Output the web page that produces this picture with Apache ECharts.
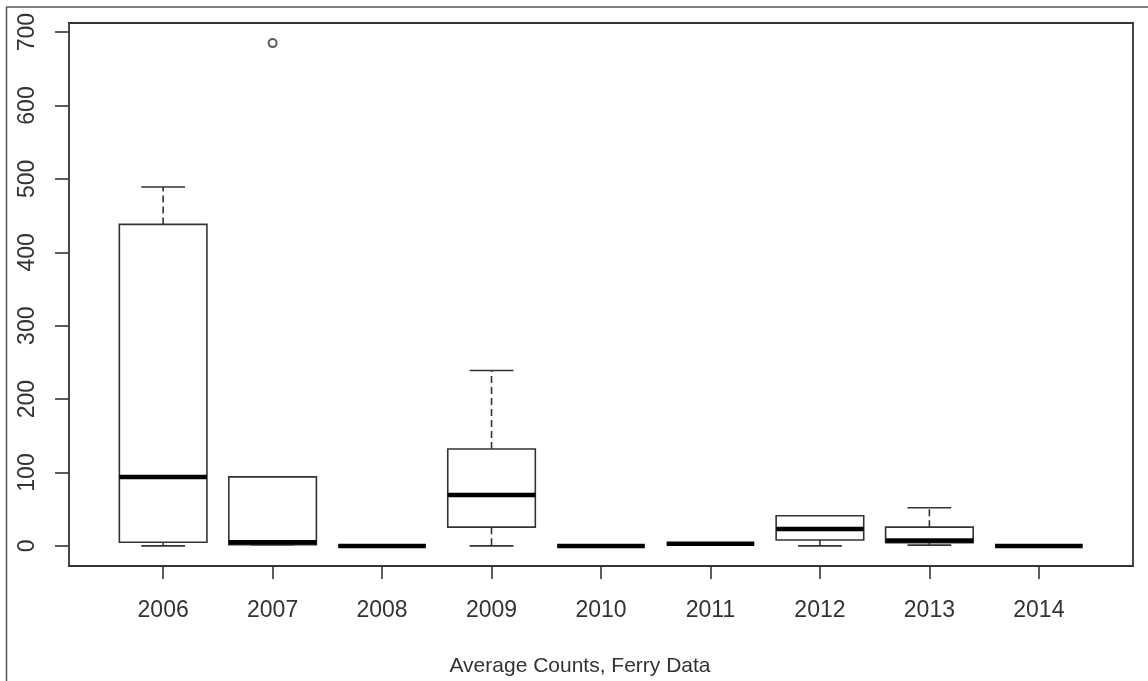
<!DOCTYPE html>
<html>
<head>
<meta charset="utf-8">
<script src="https://cdn.jsdelivr.net/npm/echarts@6/dist/echarts.min.js"></script>
<style>
html,body{margin:0;padding:0;background:#fff;}
#chart{width:1148px;height:681px;}
</style>
</head>
<body>
<div id="chart"></div>
<script>
// ---- data ----
var years   = [2006, 2007, 2008, 2009, 2010, 2011, 2012, 2013, 2014];
var mins    = [0,    1.5,  0,    0,    0,    3,    0,    1,    0];
var q1s     = [5,    1.5,  0,    25.5, 0,    3,    8,    4.5,  0];
var medians = [94,   5,    0,    69.5, 0,    3,    23,   7.5,  0];
var q3s     = [438,  94,   0,    132,  0,    3,    41,   25.5, 0];
var maxs    = [489,  94,   0,    239,  0,    3,    41,   52,   0];
var outlierYears  = [2007];
var outlierValues = [685];
var yTicks = [0, 100, 200, 300, 400, 500, 600, 700];
var xTitle = 'Average Counts, Ferry Data';

var boxData = years.map(function (y, i) {
  return [y, mins[i], q1s[i], medians[i], q3s[i], maxs[i]];
});
var outlierData = outlierYears.map(function (y, i) { return [y, outlierValues[i]]; });

// R-style ranges: 4% extension
var xMin = years[0] - 0.5, xMax = years[years.length - 1] + 0.5;
var xPad = (xMax - xMin) * 0.04;
var yDataMax = Math.max.apply(null, maxs.concat(outlierValues));
var yDataMin = Math.min.apply(null, mins);
var yPad = (yDataMax - yDataMin) * 0.04;

var FONT = "'Liberation Sans', Arial, sans-serif";
var INK = '#333';

var chart = echarts.init(document.getElementById('chart'), null, {renderer: 'canvas'});

function renderBox(params, api) {
  var x = api.value(0), mn = api.value(1), q1 = api.value(2), md = api.value(3), q3 = api.value(4), mx = api.value(5);
  var hw = 0.4, cw = 0.2;
  var children = [];
  var pTop = api.coord([x, mx]), pQ3 = api.coord([x, q3]), pQ1 = api.coord([x, q1]), pBot = api.coord([x, mn]);
  // whiskers (dashed)
  children.push({type: 'line', shape: {x1: pQ3[0], y1: pQ3[1], x2: pTop[0], y2: pTop[1]},
    style: {stroke: INK, lineWidth: 1.6, lineDash: [7, 4]}});
  children.push({type: 'line', shape: {x1: pQ1[0], y1: pQ1[1], x2: pBot[0], y2: pBot[1]},
    style: {stroke: INK, lineWidth: 1.6, lineDash: [7, 4]}});
  // staples
  var a = api.coord([x - cw, mx]), b = api.coord([x + cw, mx]);
  children.push({type: 'line', shape: {x1: a[0], y1: a[1], x2: b[0], y2: b[1]}, style: {stroke: INK, lineWidth: 1.6}});
  a = api.coord([x - cw, mn]); b = api.coord([x + cw, mn]);
  children.push({type: 'line', shape: {x1: a[0], y1: a[1], x2: b[0], y2: b[1]}, style: {stroke: INK, lineWidth: 1.6}});
  // box
  var tl = api.coord([x - hw, q3]), br = api.coord([x + hw, q1]);
  children.push({type: 'rect', shape: {x: tl[0], y: tl[1], width: br[0] - tl[0], height: br[1] - tl[1]},
    style: {fill: '#fff', stroke: INK, lineWidth: 1.6}});
  // median
  a = api.coord([x - hw, md]); b = api.coord([x + hw, md]);
  children.push({type: 'line', shape: {x1: a[0], y1: a[1], x2: b[0], y2: b[1]}, style: {stroke: '#000', lineWidth: 4.5}});
  return {type: 'group', children: children};
}

var option = {
  backgroundColor: '#fff',
  animation: false,
  grid: {left: 69, right: 15, top: 23, bottom: 115, show: true, borderColor: INK, borderWidth: 1.8, backgroundColor: 'transparent'},
  xAxis: {
    type: 'value', min: xMin - xPad, max: xMax + xPad,
    splitLine: {show: false},
    axisLine: {show: false, onZero: false},
    axisTick: {show: true, length: 13, lineStyle: {color: INK, width: 1.6}, customValues: years},
    axisLabel: {customValues: years, margin: 33, fontSize: 23, fontFamily: FONT, color: '#333',
      formatter: function (v) { return String(Math.round(v)); }}
  },
  yAxis: {
    type: 'value', min: yDataMin - yPad, max: yDataMax + yPad,
    splitLine: {show: false},
    axisLine: {show: false, onZero: false},
    axisTick: {show: true, length: 14, lineStyle: {color: INK, width: 1.6}, customValues: yTicks},
    axisLabel: {customValues: yTicks, rotate: 90, margin: 30, fontSize: 23, fontFamily: FONT, color: '#333',
      formatter: function (v) { return String(Math.round(v)); }}
  },
  graphic: [
    {type: 'line', shape: {x1: 6, y1: 7, x2: 1148, y2: 7}, style: {stroke: '#555', lineWidth: 1.5}},
    {type: 'line', shape: {x1: 6.5, y1: 7, x2: 6.5, y2: 681}, style: {stroke: '#555', lineWidth: 1.5}},
    {type: 'text', x: 580, y: 666, style: {text: xTitle, font: '21px ' + FONT, fill: '#333', textAlign: 'center', textVerticalAlign: 'middle'}}
  ],
  series: [
    {type: 'custom', renderItem: renderBox, data: boxData, encode: {x: 0, y: [1, 2, 3, 4, 5]}, clip: false},
    {type: 'scatter', data: outlierData, symbol: 'emptyCircle', symbolSize: 8, z: 5,
      itemStyle: {color: INK, borderColor: INK, borderWidth: 1.6}}
  ]
};
chart.setOption(option);
</script>
</body>
</html>
